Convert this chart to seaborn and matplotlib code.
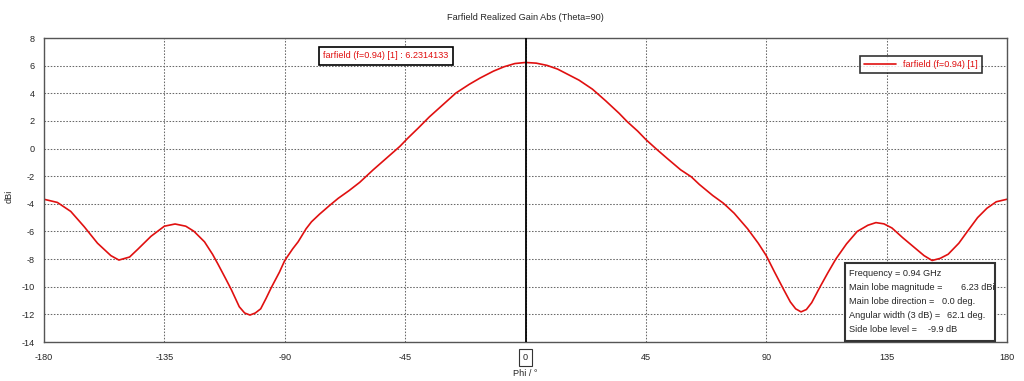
import matplotlib
matplotlib.use("Agg")
import matplotlib.pyplot as plt
import numpy as np
import pandas as pd
import seaborn as sns

# Farfield cut, Theta=90
phi = [-180, -175, -170, -165, -160, -155, -152, -148, -145, -140,
       -135, -131, -127, -124, -120, -117, -115, -112, -110, -107,
       -105, -103, -101, -99, -97, -95, -92, -90, -87, -85,
       -82, -80, -77, -73, -70, -66, -62, -57, -52, -47,
       -44, -40, -36, -31, -26, -21, -17, -12, -8, -4,
       0, 4, 8, 12, 16, 20, 25, 30, 35, 38,
       42, 45, 49, 53, 58, 62, 65, 70, 74, 78,
       83, 87, 90, 93, 96.5, 99, 101, 103, 105, 107,
       110, 113, 116, 120, 124, 128, 131, 134, 137, 141,
       145, 149, 152, 155, 158, 162, 165, 169, 172.5, 176, 180]
gain = [-3.67, -3.90, -4.55, -5.65, -6.85, -7.75, -8.07, -7.85, -7.30, -6.35,
        -5.62, -5.46, -5.62, -5.98, -6.75, -7.65, -8.35, -9.45, -10.2, -11.45,
        -11.9, -12.05, -11.9, -11.6, -10.85, -10.05, -8.95, -8.1, -7.25, -6.75,
        -5.80, -5.30, -4.75, -4.08, -3.60, -3.05, -2.45, -1.55, -0.70, 0.15,
        0.75, 1.50, 2.28, 3.15, 4.02, 4.65, 5.10, 5.60, 5.92, 6.15,
        6.23, 6.18, 6.02, 5.75, 5.35, 4.95, 4.30, 3.45, 2.55, 1.95,
        1.25, 0.65, -0.05, -0.72, -1.54, -2.05, -2.60, -3.40, -3.96, -4.68,
        -5.80, -6.85, -7.75, -8.90, -10.2, -11.1, -11.6, -11.82, -11.65, -11.15,
        -10.05, -9.0, -8.0, -6.90, -6.00, -5.55, -5.36, -5.45, -5.75, -6.45,
        -7.10, -7.75, -8.10, -7.95, -7.65, -6.85, -6.05, -5.00, -4.32, -3.85, -3.67]

x_ticks = [-180, -135, -90, -45, 0, 45, 90, 135, 180]
y_ticks = [8, 6, 4, 2, 0, -2, -4, -6, -8, -10, -12, -14]

info_labels = ["Frequency = 0.94 GHz", "Main lobe magnitude =", "Main lobe direction =",
               "Angular width (3 dB) =", "Side lobe level ="]
info_values = ["", "6.23 dBi", "0.0 deg.", "62.1 deg.", "-9.9 dB"]

df = pd.DataFrame({"phi": phi, "gain": gain})

sns.set_style("white")
plt.rcParams["font.family"] = ["Liberation Sans", "DejaVu Sans"]
plt.rcParams["axes.unicode_minus"] = False
FS = 6.6
RED = "#e01010"

W, H = 1024, 381
fig = plt.figure(figsize=(W / 100, H / 100), dpi=100)
ax = fig.add_axes([44 / W, 1 - 342 / H, (1007 - 44) / W, (342 - 38) / H])

sns.lineplot(df, x="phi", y="gain", ax=ax, color=RED, linewidth=1.2,
             label="farfield (f=0.94) [1]")
ax.axvline(0, color="black", linewidth=1.3, zorder=3)

ax.set_xlim(-180, 180)
ax.set_ylim(-14, 8)
ax.set_xticks(x_ticks)
ax.set_yticks(y_ticks)
ax.tick_params(labelsize=FS, length=3, width=0.8, color="#404040", direction="out")
ax.tick_params(axis="x", pad=5)
ax.grid(True, color="#6a6a6a", linestyle=(0, (1.5, 1.5)), linewidth=0.75)
for s in ax.spines.values():
    s.set_color("#555555")
    s.set_linewidth(1)

for lab in ax.get_xticklabels():
    if lab.get_text() == "0":
        lab.set_bbox(dict(boxstyle="square,pad=0.4", fc="white", ec="#333333", lw=0.8))

ax.set_xlabel("Phi / \u00b0", fontsize=FS, labelpad=5)
ax.set_ylabel("dBi", fontsize=FS)
ax.yaxis.set_label_coords(-0.032, 0.48)
ax.set_title("Farfield Realized Gain Abs (Theta=90)", fontsize=FS, pad=13)

leg = ax.legend(loc="upper right", bbox_to_anchor=(0.979, 0.957), fontsize=FS,
                frameon=True, fancybox=False, edgecolor="black", handlelength=3.5,
                borderpad=0.45)
leg.get_frame().set_linewidth(1.2)
for t in leg.get_texts():
    t.set_color(RED)

ax.text(0.355, 0.941, "farfield (f=0.94) [1] : 6.2314133", transform=ax.transAxes,
        ha="center", va="center", fontsize=FS, color=RED,
        bbox=dict(boxstyle="square,pad=0.5", fc="white", ec="black", lw=1.2))

# info box
box = plt.Rectangle((845 / W, 1 - 341 / H), 150 / W, 78 / H, transform=fig.transFigure,
                    fc="white", ec="#333333", lw=1.5, zorder=5)
fig.patches.append(box)
value_x = [None, 961, 942, 947, 928]
line_y = [273, 288, 301, 316, 329]
for lab, val, vx, ly in zip(info_labels, info_values, value_x, line_y):
    fig.text(849 / W, 1 - ly / H, lab, fontsize=FS, va="center", ha="left", zorder=6)
    if vx:
        fig.text(vx / W, 1 - ly / H, val, fontsize=FS, va="center", ha="left", zorder=6)

fig.savefig("out.png", dpi=100)
